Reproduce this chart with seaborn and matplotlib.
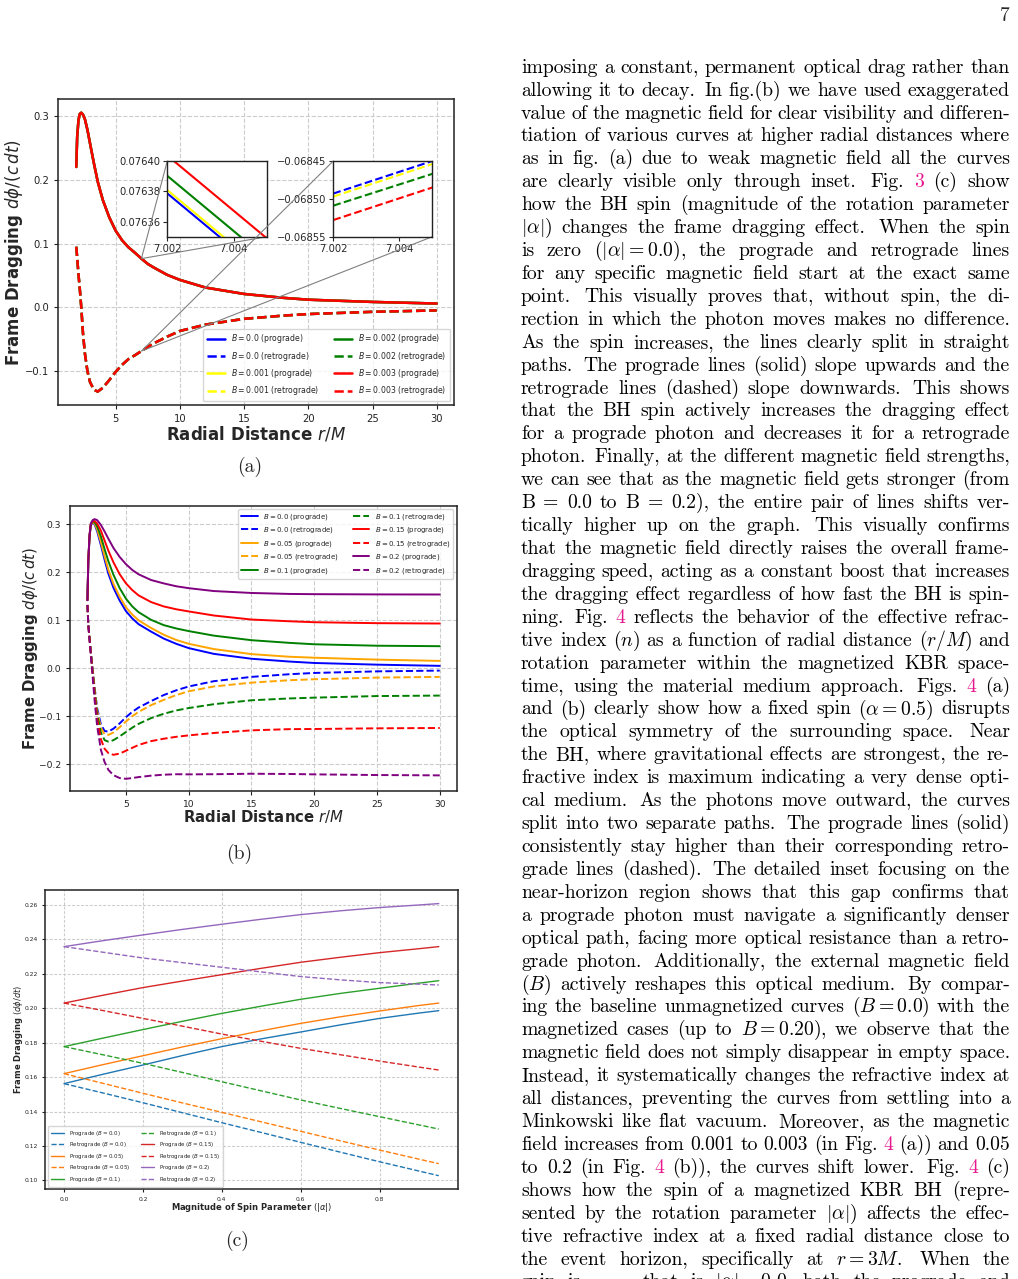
import matplotlib
matplotlib.use("Agg")
import numpy as np
import pandas as pd
import seaborn as sns
import matplotlib.pyplot as plt
from matplotlib.ticker import FuncFormatter
from mpl_toolkits.axes_grid1.inset_locator import mark_inset

sns.set_style("ticks")
plt.rcParams['font.family'] = ['DejaVu Sans']

W, H = 1018, 1279

# ---------------- data: panel (a) ----------------
B_a = ['0.0', '0.001', '0.002', '0.003']
colors_a = ['blue', 'yellow', 'green', 'red']
r_a = [1.93, 2.0, 2.1, 2.2, 2.32, 2.45, 2.6, 2.8, 3.0, 3.3, 3.6, 4.0, 4.5, 5.0,
       5.5, 6.0, 6.5, 7.5, 8.0, 9.0, 10, 12, 15, 18, 20, 25, 30]
a_pro = [0.220, 0.267, 0.293, 0.303, 0.305, 0.302, 0.295, 0.278, 0.257, 0.226,
         0.197, 0.168, 0.141, 0.120, 0.105, 0.094, 0.0855, 0.068, 0.062, 0.051,
         0.043, 0.031, 0.021, 0.015, 0.012, 0.0085, 0.006]
a_ret = [0.095, 0.078, 0.052, 0.030, 0.0, -0.040, -0.072, -0.100, -0.117, -0.129,
         -0.132, -0.126, -0.114, -0.101, -0.090, -0.081, -0.075, -0.062, -0.056,
         -0.046, -0.037, -0.027, -0.018, -0.013, -0.0105, -0.007, -0.0048]
# values (r = 7.002 and 7.005)
r_zoom = [7.002, 7.005]
zoom_pro = [[0.0763786, 0.0763240], [0.0763808, 0.0763262],
            [0.0763902, 0.0763356], [0.0764036, 0.0763490]]
zoom_ret = [[-0.068493, -0.068450], [-0.068497, -0.068454],
            [-0.068509, -0.068467], [-0.068528, -0.068485]]

# ---------------- data: panel (b) ----------------
B_b = ['0.0', '0.05', '0.1', '0.15', '0.2']
colors_b = ['blue', 'orange', 'green', 'red', 'purple']
r_b = [1.93, 2.0, 2.1, 2.2, 2.35, 2.5, 2.7, 3.0, 3.3, 3.6, 4.0, 4.5, 5.0, 5.5,
       6.0, 7.0, 8.0, 9.0, 10, 12, 15, 18, 20, 25, 30]
b_pro_00 = [0.142, 0.225, 0.275, 0.298, 0.304, 0.300, 0.286, 0.257, 0.226, 0.197, 0.168, 0.141, 0.119,
            0.104, 0.092, 0.0764, 0.062, 0.051, 0.042, 0.030, 0.0198, 0.0140, 0.0110, 0.0075, 0.0050]
b_pro_05 = [0.142, 0.225, 0.276, 0.299, 0.305, 0.302, 0.290, 0.263, 0.233, 0.205, 0.176, 0.149, 0.127,
            0.112, 0.100, 0.084, 0.070, 0.059, 0.051, 0.040, 0.0295, 0.024, 0.022, 0.018, 0.0153]
b_pro_10 = [0.142, 0.225, 0.277, 0.300, 0.306, 0.305, 0.296, 0.275, 0.248, 0.223, 0.195, 0.167, 0.145,
            0.129, 0.117, 0.101, 0.090, 0.083, 0.0775, 0.068, 0.0585, 0.053, 0.050, 0.047, 0.046]
b_pro_15 = [0.142, 0.225, 0.278, 0.301, 0.307, 0.307, 0.302, 0.287, 0.266, 0.245, 0.221, 0.196, 0.177,
            0.163, 0.152, 0.138, 0.129, 0.123, 0.1185, 0.110, 0.1016, 0.098, 0.096, 0.094, 0.0933]
b_pro_20 = [0.142, 0.225, 0.279, 0.302, 0.309, 0.311, 0.309, 0.299, 0.285, 0.270, 0.251, 0.232, 0.217,
            0.205, 0.196, 0.184, 0.177, 0.171, 0.167, 0.161, 0.157, 0.155, 0.1545, 0.154, 0.1538]
b_ret_00 = [0.132, 0.090, 0.062, 0.035, -0.003, -0.040, -0.083, -0.117, -0.131, -0.132, -0.126, -0.115, -0.102,
            -0.091, -0.082, -0.0685, -0.056, -0.046, -0.038, -0.027, -0.018, -0.0125, -0.0098, -0.0065, -0.0049]
b_ret_05 = [0.132, 0.090, 0.062, 0.034, -0.005, -0.043, -0.088, -0.124, -0.138, -0.139, -0.134, -0.123, -0.111,
            -0.100, -0.091, -0.077, -0.066, -0.056, -0.048, -0.038, -0.030, -0.025, -0.023, -0.0195, -0.018]
b_ret_10 = [0.132, 0.090, 0.061, 0.033, -0.008, -0.047, -0.095, -0.134, -0.150, -0.153, -0.150, -0.142, -0.133,
            -0.124, -0.116, -0.104, -0.095, -0.088, -0.083, -0.075, -0.0668, -0.063, -0.0613, -0.058, -0.057]
b_ret_15 = [0.132, 0.090, 0.060, 0.031, -0.012, -0.054, -0.105, -0.148, -0.168, -0.177, -0.1805, -0.178, -0.172,
            -0.166, -0.160, -0.152, -0.147, -0.143, -0.140, -0.135, -0.1295, -0.127, -0.1267, -0.1253, -0.1246]
b_ret_20 = [0.132, 0.090, 0.058, 0.027, -0.020, -0.067, -0.120, -0.170, -0.196, -0.212, -0.223, -0.229, -0.2306,
            -0.229, -0.227, -0.224, -0.222, -0.221, -0.2213, -0.221, -0.220, -0.2205, -0.2213, -0.2227, -0.2234]
b_pro = [b_pro_00, b_pro_05, b_pro_10, b_pro_15, b_pro_20]
b_ret = [b_ret_00, b_ret_05, b_ret_10, b_ret_15, b_ret_20]

# ---------------- data: panel (c) ----------------
B_c = ['0.0', '0.05', '0.1', '0.15', '0.2']
colors_c = ['#1f77b4', '#ff7f0e', '#2ca02c', '#d62728', '#9467bd']
spin_c = [0.0, 0.1, 0.2, 0.3, 0.4, 0.5, 0.6, 0.7, 0.8, 0.9, 0.95]
c_pro_00 = [0.1562, 0.1617, 0.1670, 0.1725, 0.1777, 0.1822, 0.1862, 0.1903, 0.1941, 0.1972, 0.1986]
c_ret_00 = [0.1562, 0.1507, 0.1451, 0.1393, 0.1335, 0.1278, 0.1221, 0.1164, 0.1108, 0.1054, 0.1027]
c_pro_05 = [0.1620, 0.1673, 0.1724, 0.1775, 0.1823, 0.1869, 0.1912, 0.1950, 0.1984, 0.2016, 0.2030]
c_ret_05 = [0.1620, 0.1563, 0.1506, 0.1450, 0.1395, 0.1340, 0.1285, 0.1230, 0.1176, 0.1123, 0.1097]
c_pro_10 = [0.1777, 0.1827, 0.1876, 0.1924, 0.1970, 0.2012, 0.2052, 0.2086, 0.2116, 0.2146, 0.2160]
c_ret_10 = [0.1777, 0.1729, 0.1680, 0.1627, 0.1573, 0.1520, 0.1467, 0.1418, 0.1370, 0.1322, 0.1298]
c_pro_15 = [0.2030, 0.2076, 0.2120, 0.2158, 0.2195, 0.2232, 0.2267, 0.2296, 0.2323, 0.2346, 0.2358]
c_ret_15 = [0.2030, 0.1986, 0.1941, 0.1896, 0.1850, 0.1808, 0.1767, 0.1730, 0.1693, 0.1658, 0.1641]
c_pro_20 = [0.2358, 0.2393, 0.2426, 0.2458, 0.2488, 0.2517, 0.2544, 0.2566, 0.2585, 0.2600, 0.2608]
c_ret_20 = [0.2358, 0.2325, 0.2292, 0.2265, 0.2238, 0.2211, 0.2184, 0.2165, 0.2149, 0.2140, 0.2135]
c_pro = [c_pro_00, c_pro_05, c_pro_10, c_pro_15, c_pro_20]
c_ret = [c_ret_00, c_ret_05, c_ret_10, c_ret_15, c_ret_20]

# ---------------- page text ----------------
body_lines = [
    "imposing a constant, permanent optical drag rather than",
    "allowing it to decay. In fig.(b) we have used exaggerated",
    "value of the magnetic field for clear visibility and differen-",
    "tiation of various curves at higher radial distances where",
    "as in fig. (a) due to weak magnetic field all the curves",
    "are clearly visible only through inset. Fig. {3} (c) show",
    "how the BH spin (magnitude of the rotation parameter",
    r"$|\alpha|$) changes the frame dragging effect. When the spin",
    r"is zero ($|\alpha|=0.0$), the prograde and retrograde lines",
    "for any specific magnetic field start at the exact same",
    "point. This visually proves that, without spin, the di-",
    "rection in which the photon moves makes no difference.",
    "As the spin increases, the lines clearly split in straight",
    "paths. The prograde lines (solid) slope upwards and the",
    "retrograde lines (dashed) slope downwards. This shows",
    "that the BH spin actively increases the dragging effect",
    "for a prograde photon and decreases it for a retrograde",
    "photon. Finally, at the different magnetic field strengths,",
    "we can see that as the magnetic field gets stronger (from",
    "B = 0.0 to B = 0.2), the entire pair of lines shifts ver-",
    "tically higher up on the graph. This visually confirms",
    "that the magnetic field directly raises the overall frame-",
    "dragging speed, acting as a constant boost that increases",
    "the dragging effect regardless of how fast the BH is spin-",
    "ning. Fig. {4} reflects the behavior of the effective refrac-",
    r"tive index ($n$) as a function of radial distance ($r/M$) and",
    "rotation parameter within the magnetized KBR space-",
    "time, using the material medium approach. Figs. {4} (a)",
    r"and (b) clearly show how a fixed spin ($\alpha=0.5$) disrupts",
    "the optical symmetry of the surrounding space. Near",
    "the BH, where gravitational effects are strongest, the re-",
    "fractive index is maximum indicating a very dense opti-",
    "cal medium. As the photons move outward, the curves",
    "split into two separate paths. The prograde lines (solid)",
    "consistently stay higher than their corresponding retro-",
    "grade lines (dashed). The detailed inset focusing on the",
    "near-horizon region shows that this gap confirms that",
    "a prograde photon must navigate a significantly denser",
    "optical path, facing more optical resistance than a retro-",
    "grade photon. Additionally, the external magnetic field",
    r"($B$) actively reshapes this optical medium. By compar-",
    r"ing the baseline unmagnetized curves ($B=0.0$) with the",
    r"magnetized cases (up to $B=0.20$), we observe that the",
    "magnetic field does not simply disappear in empty space.",
    "Instead, it systematically changes the refractive index at",
    "all distances, preventing the curves from settling into a",
    "Minkowski like flat vacuum. Moreover, as the magnetic",
    "field increases from 0.001 to 0.003 (in Fig. {4} (a)) and 0.05",
    "to 0.2 (in Fig. {4} (b)), the curves shift lower. Fig. {4} (c)",
    "shows how the spin of a magnetized KBR BH (repre-",
    r"sented by the rotation parameter $|\alpha|$) affects the effec-",
    "tive refractive index at a fixed radial distance close to",
    r"the event horizon, specifically at $r=3M$. When the",
    r"spin is zero, that is $|\alpha|=0.0$, both the prograde and",
]

fig = plt.figure(figsize=(W / 100, H / 100), dpi=100)
fig.patch.set_facecolor('white')


def px_rect(left, top, right, bottom):
    return [left / W, 1 - bottom / H, (right - left) / W, (bottom - top) / H]


def style_axes(ax, labelsize, grid_ls='--'):
    ax.grid(True, linestyle=grid_ls, color='#cccccc', linewidth=0.8)
    ax.set_axisbelow(True)
    ax.tick_params(labelsize=labelsize, length=3, width=0.8, colors='#222222')
    for s in ax.spines.values():
        s.set_color('#222222')
        s.set_linewidth(1.1)


minus_fmt = lambda fmt: FuncFormatter(lambda v, p: (fmt % v).replace('-', '\u2212'))

# ================= panel (a) =================
ax_a = fig.add_axes(px_rect(58.3, 99.3, 454.3, 405))
for i, b in enumerate(B_a):
    d_pro = pd.DataFrame({'r': r_a + r_zoom, 'w': a_pro + zoom_pro[i]})
    d_ret = pd.DataFrame({'r': r_a + r_zoom, 'w': a_ret + zoom_ret[i]})
    sns.lineplot(data=d_pro, x='r', y='w', color=colors_a[i], lw=1.8, errorbar=None,
                 label=rf'$B = {b}$ (prograde)', ax=ax_a)
    sns.lineplot(data=d_ret, x='r', y='w', color=colors_a[i], lw=1.8, linestyle='--',
                 errorbar=None, label=rf'$B = {b}$ (retrograde)', ax=ax_a)
ax_a.set_xlim(0.53, 31.37)
ax_a.set_ylim(-0.153, 0.326)
ax_a.set_xticks([5, 10, 15, 20, 25, 30])
ax_a.set_yticks([-0.1, 0.0, 0.1, 0.2, 0.3])
style_axes(ax_a, 7.2)
ax_a.set_xlabel(r'Radial Distance $r/M$', fontsize=12, fontweight='bold', labelpad=0.5)
ax_a.set_ylabel(r'Frame Dragging $d\phi/(c\,dt)$', fontsize=12, fontweight='bold', labelpad=0)
ax_a.legend(loc='lower right', ncol=2, fontsize=5.6, handlelength=2.3, labelspacing=0.55,
            columnspacing=1.9, borderpad=0.5)

ins1 = fig.add_axes(px_rect(167.3, 161, 266.7, 236.7))
ins2 = fig.add_axes(px_rect(333.3, 161, 432.3, 236.7))
for i in range(len(B_a)):
    sns.lineplot(x=r_zoom, y=zoom_pro[i], color=colors_a[i], lw=1.5, errorbar=None, ax=ins1)
    sns.lineplot(x=r_zoom, y=zoom_ret[i], color=colors_a[i], lw=1.5, linestyle='--',
                 errorbar=None, ax=ins2)
ins1.set_xlim(7.002, 7.005)
ins1.set_ylim(0.07635, 0.07640)
ins1.set_yticks([0.07636, 0.07638, 0.07640])
ins2.set_xlim(7.002, 7.005)
ins2.set_ylim(-0.06855, -0.06845)
ins2.set_yticks([-0.06855, -0.06850, -0.06845])
for ins in (ins1, ins2):
    ins.set_xticks([7.002, 7.004])
    ins.xaxis.set_major_formatter(minus_fmt('%.3f'))
    ins.yaxis.set_major_formatter(minus_fmt('%.5f'))
    ins.tick_params(labelsize=7.2, length=3, width=0.8, pad=2)
    ins.set_facecolor('white')
    for s in ins.spines.values():
        s.set_color('#222222')
        s.set_linewidth(1.0)
    mark_inset(ax_a, ins, loc1=2, loc2=4, fc='none', ec='0.5', lw=0.8)

# ================= panel (b) =================
ax_b = fig.add_axes(px_rect(70, 505.7, 456.7, 791))
for i, b in enumerate(B_b):
    sns.lineplot(x=r_b, y=b_pro[i], color=colors_b[i], lw=1.4, errorbar=None,
                 label=rf'$B = {b}$ (prograde)', ax=ax_b)
    sns.lineplot(x=r_b, y=b_ret[i], color=colors_b[i], lw=1.4, linestyle='--', errorbar=None,
                 label=rf'$B = {b}$ (retrograde)', ax=ax_b)
ax_b.set_xlim(0.54, 31.35)
ax_b.set_ylim(-0.256, 0.339)
ax_b.set_xticks([5, 10, 15, 20, 25, 30])
ax_b.set_yticks([-0.2, -0.1, 0.0, 0.1, 0.2, 0.3])
style_axes(ax_b, 6.6)
ax_b.set_xlabel(r'Radial Distance $r/M$', fontsize=10.7, fontweight='bold', labelpad=-1)
ax_b.set_ylabel(r'Frame Dragging $d\phi/(c\,dt)$', fontsize=10.7, fontweight='bold', labelpad=-1)
ax_b.legend(loc='upper right', ncol=2, fontsize=5.0, handlelength=2.4, labelspacing=0.5,
            columnspacing=2.0, borderpad=0.4)

# ================= panel (c) =================
ax_c = fig.add_axes(px_rect(45.3, 890, 457.7, 1189.3))
for i, b in enumerate(B_c):
    sns.lineplot(x=spin_c, y=c_pro[i], color=colors_c[i], lw=1.0, errorbar=None,
                 label=rf'Prograde ($B = {b}$)', ax=ax_c)
    sns.lineplot(x=spin_c, y=c_ret[i], color=colors_c[i], lw=1.0, linestyle='--', errorbar=None,
                 label=rf'Retrograde ($B = {b}$)', ax=ax_c)
ax_c.set_xlim(-0.0474, 0.998)
ax_c.set_ylim(0.0948, 0.2687)
ax_c.set_xticks([0.0, 0.2, 0.4, 0.6, 0.8])
ax_c.set_yticks([0.10, 0.12, 0.14, 0.16, 0.18, 0.20, 0.22, 0.24, 0.26])
style_axes(ax_c, 4.3, grid_ls=(0, (2.5, 1.5)))
ax_c.tick_params(length=2)
ax_c.set_xlabel(r'Magnitude of Spin Parameter $(|\alpha|)$', fontsize=6, fontweight='bold', labelpad=-1)
ax_c.set_ylabel(r'Frame Dragging $(d\phi/dt)$', fontsize=6, fontweight='bold', labelpad=-0.5)
ax_c.legend(loc='lower left', ncol=2, fontsize=4.0, handlelength=2.4, labelspacing=0.45,
            columnspacing=2.0, borderpad=0.5)

# ================= page text =================
serif = ['cmr10', 'DejaVu Serif']
fs = 14.2
pink = '#e8178c'
txt_kw = dict(fontsize=fs, family=serif, math_fontfamily='cm', va='baseline')

fig.text(1010 / W, 1 - 21 / H, '7', ha='right', **txt_kw)
fig.text(250 / W, 1 - 472 / H, '(a)', ha='center', **txt_kw)
fig.text(239 / W, 1 - 859 / H, '(b)', ha='center', **txt_kw)
fig.text(237 / W, 1 - 1246 / H, '(c)', ha='center', **txt_kw)

renderer = fig.canvas.get_renderer()
x_left, x_right = 521.0, 1010.0
no_stop = {'Fig.', 'Figs.', 'fig.'}
for i, line in enumerate(body_lines):
    y = 72.7 + 22.92 * i
    objs, weights = [], []
    for tok in line.split(' '):
        col = 'black'
        if tok.startswith('{') and tok.endswith('}'):
            tok, col = tok[1:-1], pink
        o = fig.text(0, 1 - y / H, tok, color=col, ha='left', **txt_kw)
        objs.append(o)
        weights.append(1.4 if tok.endswith('.') and tok not in no_stop else 1.0)
    widths = [o.get_window_extent(renderer).width for o in objs]
    unit = (x_right - x_left - sum(widths)) / max(sum(weights[:-1]), 1)
    x = x_left
    for o, w, g in zip(objs, widths, weights):
        o.set_x(x / W)
        x += w + g * unit

fig.savefig('out.png', dpi=100)
